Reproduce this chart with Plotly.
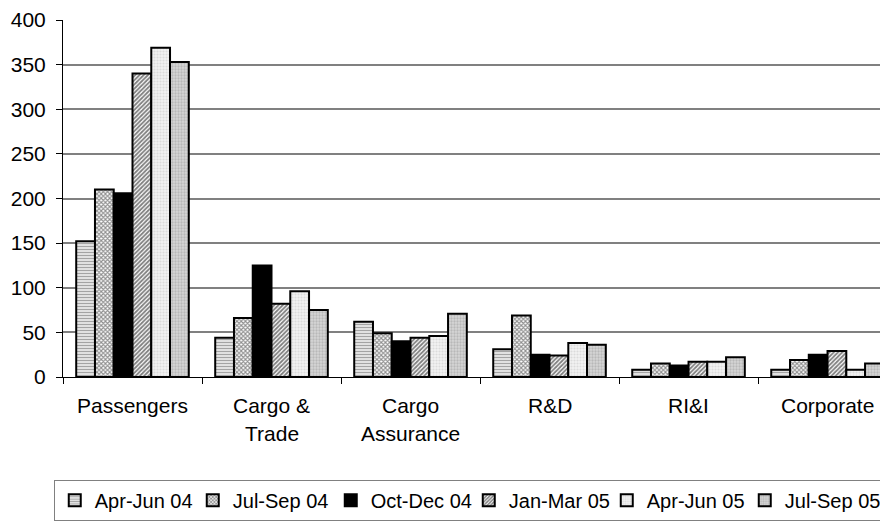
import plotly.graph_objects as go

categories = ["Passengers", "Cargo & Trade", "Cargo Assurance", "R&D", "RI&I", "Corporate"]
tick_lines = [["Passengers"], ["Cargo &", "Trade"], ["Cargo", "Assurance"], ["R&D"], ["RI&I"], ["Corporate"]]
series_names = ["Apr-Jun 04", "Jul-Sep 04", "Oct-Dec 04", "Jan-Mar 05", "Apr-Jun 05", "Jul-Sep 05"]
apr_jun_04 = [152, 44, 62, 31, 8, 8]
jul_sep_04 = [210, 66, 49, 69, 15, 19]
oct_dec_04 = [206, 125, 40, 25, 13, 25]
jan_mar_05 = [340, 82, 44, 24, 17, 29]
apr_jun_05 = [369, 96, 46, 38, 17, 8]
jul_sep_05 = [353, 75, 71, 36, 22, 15]
series_values = [apr_jun_04, jul_sep_04, oct_dec_04, jan_mar_05, apr_jun_05, jul_sep_05]
y_ticks = [0, 50, 100, 150, 200, 250, 300, 350, 400]

FONT = "Liberation Sans, Arial, sans-serif"

styles = [
    dict(color="#c8c8c8", pattern=dict(shape="-", fgcolor="#606060", bgcolor="#e8e8e8", size=3, solidity=0.4)),
    dict(color="#999999", pattern=dict(shape="x", fgcolor="#202020", bgcolor="#ffffff", size=3, solidity=0.6)),
    dict(color="#000000"),
    dict(color="#999999", pattern=dict(shape="/", fgcolor="#000000", bgcolor="#ffffff", size=3, solidity=0.6)),
    dict(color="#e6e6e6", pattern=dict(shape=".", fgcolor="#c4c4c4", bgcolor="#f2f2f2", size=3, solidity=0.4)),
    dict(color="#c0c0c0", pattern=dict(shape=".", fgcolor="#999999", bgcolor="#d6d6d6", size=3, solidity=0.45)),
]

fig = go.Figure()
for name, vals, st in zip(series_names, series_values, styles):
    marker = dict(color=st["color"], line=dict(color="#000000", width=2))
    if "pattern" in st:
        marker["pattern"] = st["pattern"]
    fig.add_trace(go.Bar(name=name, x=categories, y=vals, marker=marker))

for cat, lines in zip(categories, tick_lines):
    for i, line in enumerate(lines):
        fig.add_annotation(x=cat, xref="x", y=0, yref="paper", yanchor="top",
                           yshift=-15 - 28 * i, text=line, showarrow=False,
                           font=dict(family=FONT, size=21, color="#000000"))

fig.update_layout(
    width=880, height=514,
    margin=dict(l=55, r=0, t=12, b=145),
    paper_bgcolor="#ffffff", plot_bgcolor="#ffffff",
    barmode="group", bargap=0.19, bargroupgap=0,
    font=dict(family=FONT, size=21, color="#000000"),
    showlegend=True,
    legend=dict(orientation="h", xref="container", yref="container",
                x=0.052, xanchor="left", y=0.082, yanchor="top",
                bordercolor="#808080", borderwidth=1, bgcolor="#ffffff",
                font=dict(family=FONT, size=20), itemwidth=30, tracegroupgap=0,
                entrywidth=93, entrywidthmode="pixels"),
    xaxis=dict(range=[-0.5, 5.435], showticklabels=False, ticks="outside", ticklen=6,
               tickson="boundaries", tickcolor="#000000", showline=True, linecolor="#000000",
               linewidth=1, showgrid=False, fixedrange=True, automargin=False),
    yaxis=dict(range=[0, 400], tickvals=y_ticks, ticks="outside", ticklen=6,
               tickcolor="#000000", showline=True, linecolor="#000000", linewidth=1,
               showgrid=True, gridcolor="#808080", gridwidth=1.5, zeroline=False,
               tickfont=dict(family=FONT, size=21), ticklabelstandoff=6, automargin=False),
)
fig.write_html("out.html")
